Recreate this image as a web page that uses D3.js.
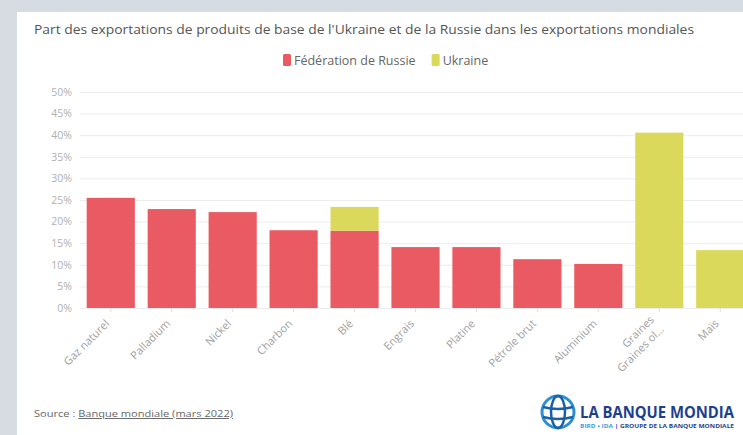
<!DOCTYPE html>
<html><head><meta charset="utf-8">
<script src="https://cdn.jsdelivr.net/npm/d3@7"></script>
<style>
html,body{margin:0;padding:0;background:#d6dce1;overflow:hidden;}
svg{display:block;}
text{font-family:"Open Sans",sans-serif;}
</style></head>
<body>
<svg id="c" width="743" height="435"></svg>
<script>
const categories = ["Gaz naturel","Palladium","Nickel","Charbon","Blé","Engrais","Platine","Pétrole brut","Aluminium","Graines|Graines ol…","Maïs"];
const russia = [25.5, 22.9, 22.2, 18.0, 17.9, 14.1, 14.1, 11.3, 10.2, 0, 0];
const ukraine = [0, 0, 0, 0, 5.5, 0, 0, 0, 0, 40.6, 13.4];
const yTicks = [0,5,10,15,20,25,30,35,40,45,50];
const seriesNames = ["Fédération de Russie","Ukraine"];
const colors = ["#e95a62","#dbd95b"];

const svg = d3.select("#c");
svg.append("rect").attr("x",17).attr("y",12).attr("width",743).attr("height",435).attr("fill","#fff");

svg.append("text").attr("x",34).attr("y",34).attr("font-size",12.5).attr("fill","#555")
  .attr("textLength",660).attr("lengthAdjust","spacingAndGlyphs")
  .text("Part des exportations de produits de base de l'Ukraine et de la Russie dans les exportations mondiales");

const x = d3.scaleBand().domain(categories).range([80,751]).paddingInner(0.21).paddingOuter(0.11);
const y = d3.scaleLinear().domain([0,50]).range([308,92]);

// gridlines
svg.append("g").selectAll("line").data(yTicks).join("line")
  .attr("x1",80).attr("x2",743).attr("y1",d=>y(d)+0.5).attr("y2",d=>y(d)+0.5)
  .attr("stroke","#ececec").attr("stroke-width",1);

// y axis
const ya = svg.append("g").attr("transform","translate(80,0)")
  .call(d3.axisLeft(y).tickValues(yTicks).tickFormat(d=>d+"%").tickSize(0).tickPadding(8));
ya.select(".domain").remove();
ya.selectAll("text").attr("fill","#b0b0b0").attr("font-size",10.5).attr("font-family","Open Sans, sans-serif");

// stacked bars
const data = categories.map((c,i)=>({c, r:russia[i], u:ukraine[i]}));
svg.append("g").selectAll("rect").data(data).join("rect")
  .attr("x",d=>x(d.c)).attr("width",x.bandwidth())
  .attr("y",d=>y(d.r)).attr("height",d=>y(0)-y(d.r)).attr("fill",colors[0]);
svg.append("g").selectAll("rect").data(data).join("rect")
  .attr("x",d=>x(d.c)).attr("width",x.bandwidth())
  .attr("y",d=>y(d.r+d.u)).attr("height",d=>y(d.r)-y(d.r+d.u)).attr("fill",colors[1]);

// x axis
const xa = svg.append("g").attr("transform","translate(0,308)")
  .call(d3.axisBottom(x).tickSize(4).tickFormat(""));
xa.select(".domain").remove();
xa.selectAll("line").attr("stroke","#ddd");
const lab = svg.append("g").selectAll("text").data(categories).join("text")
  .attr("transform",d=>`translate(${x(d)+x.bandwidth()/2-3},${322}) rotate(-45)`)
  .attr("text-anchor","end").attr("font-size",11).attr("fill","#a0a0a0");
lab.each(function(d){
  const parts = d.split("|");
  const t = d3.select(this);
  parts.forEach((p,k)=>{
    t.append("tspan").attr("x",0).attr("dy", k===0 ? (parts.length>1? "-0.2em":"0.3em") : "1.25em").text(p);
  });
});

// legend
const lg = svg.append("g").attr("transform","translate(283,54)");
let lx = 0;
seriesNames.forEach((n,i)=>{
  lg.append("rect").attr("x",lx).attr("y",0).attr("width",8).attr("height",12).attr("rx",1.5).attr("fill",colors[i]);
  const t = lg.append("text").attr("x",lx+11).attr("y",10.5).attr("font-size",12.5).attr("fill","#666").text(n);
  lx += 11 + t.node().getComputedTextLength() + 16;
});

// source
const src = svg.append("text").attr("x",34).attr("y",417).attr("font-size",9.5).attr("fill","#666")
  .attr("textLength",199).attr("lengthAdjust","spacingAndGlyphs");
src.append("tspan").text("Source : ");
src.append("tspan").attr("text-decoration","underline").text("Banque mondiale (mars 2022)");

// logo
const logo = svg.append("g").attr("transform","translate(558,412)");
logo.append("circle").attr("r",16).attr("fill","none").attr("stroke","#2d8fd0").attr("stroke-width",3);
logo.append("ellipse").attr("rx",7).attr("ry",16).attr("fill","none").attr("stroke","#1b5fa8").attr("stroke-width",2.5);
logo.append("path").attr("d","M-15,-5 Q0,-1 15,-5 M-15,5 Q0,9 15,5").attr("fill","none").attr("stroke","#1b5fa8").attr("stroke-width",2.5);
svg.append("text").attr("x",580).attr("y",418).attr("font-size",16).attr("font-weight","bold")
  .attr("font-family","Roboto, sans-serif").attr("fill","#1d3f8e")
  .attr("textLength",154).attr("lengthAdjust","spacingAndGlyphs").text("LA BANQUE MONDIA");
const sub = svg.append("text").attr("x",580).attr("y",428).attr("font-size",5.5).attr("font-weight","bold").attr("fill","#1d3f8e")
  .attr("textLength",154).attr("lengthAdjust","spacingAndGlyphs");
sub.append("tspan").attr("fill","#3aa0e0").text("BIRD • IDA ");
sub.append("tspan").text("| GROUPE DE LA BANQUE MONDIALE");
</script>
</body></html>
